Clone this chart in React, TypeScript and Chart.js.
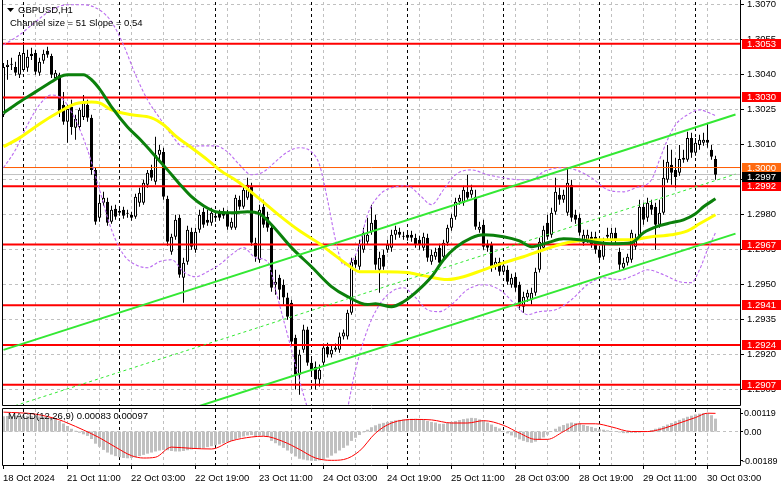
import { useEffect, useRef } from "react";
import { Chart, registerables } from "chart.js";

Chart.register(...registerables);

const FONT = '9.5px "Liberation Sans", Arial, sans-serif';
const SMALL_FONT = '9px "Liberation Sans", Arial, sans-serif';

const symbolTitle = "GBPUSD,H1";
const channelTitle = "Channel size = 51 Slope = 0.54";
const macdTitle = "MACD(12,26,9) 0.00083 0.00097";

const timeLabelBars = [0, 16, 32, 48, 64, 80, 96, 112, 128, 144, 160, 176];
const timeLabels = [
  "18 Oct 2024", "21 Oct 11:00", "22 Oct 03:00", "22 Oct 19:00", "23 Oct 11:00", "24 Oct 03:00",
  "24 Oct 19:00", "25 Oct 11:00", "28 Oct 03:00", "28 Oct 19:00", "29 Oct 11:00", "30 Oct 03:00",
];
const daySeparatorBars = [5, 29, 53, 77, 101, 125, 149, 173];
const gridBars = [8, 16, 24, 32, 40, 48, 56, 64, 72, 80, 88, 96, 104, 112, 120, 128, 136, 144, 152, 160, 168, 176];
const priceTicks = [1.307, 1.3055, 1.304, 1.3025, 1.301, 1.2995, 1.298, 1.2965, 1.295, 1.2935, 1.292, 1.2905];
const levelPrices = [1.3053, 1.303, 1.2992, 1.2967, 1.2941, 1.2924, 1.2907];
const roundLevel = 1.3;
const bidPrice = 1.2997;
const macdTicks = [0.00119, 0, -0.00189];
const macdTickLabels = ["0.00119", "0.00", "-0.00189"];

const BAR_MIN = -0.125;
const BAR_MAX = 184.125;
const PRICE_MIN = 1.28983;
const PRICE_MAX = 1.30709;
const MACD_MIN = -0.00215;
const MACD_MAX = 0.00145;

const openP = [
  1.30226, 1.30431, 1.30440, 1.30431, 1.30397, 1.30418, 1.30427, 1.30487, 1.30491, 1.30406,
  1.30457, 1.30500, 1.30478, 1.30384, 1.30397, 1.30269, 1.30196, 1.30260, 1.30170, 1.30174,
  1.30217, 1.30269, 1.30213, 1.29990, 1.29785, 1.29849, 1.29853, 1.29768, 1.29823, 1.29806,
  1.29819, 1.29802, 1.29798, 1.29789, 1.29849, 1.29849, 1.29926, 1.29990, 1.29939, 1.30055,
  1.30067, 1.29866, 1.29639, 1.29704, 1.29785, 1.29528, 1.29597, 1.29725, 1.29648, 1.29734,
  1.29811, 1.29776, 1.29764, 1.29785, 1.29806, 1.29811, 1.29806, 1.29742, 1.29742, 1.29862,
  1.29832, 1.29871, 1.29918, 1.29678, 1.29605, 1.29832, 1.29789, 1.29742, 1.29498, 1.29528,
  1.29498, 1.29443, 1.29421, 1.29271, 1.29113, 1.29220, 1.29306, 1.29164, 1.29147, 1.29092,
  1.29164, 1.29233, 1.29199, 1.29220, 1.29220, 1.29276, 1.29276, 1.29378, 1.29605, 1.29575,
  1.29648, 1.29682, 1.29725, 1.29776, 1.29562, 1.29627, 1.29648, 1.29657, 1.29712, 1.29725,
  1.29704, 1.29712, 1.29712, 1.29699, 1.29691, 1.29657, 1.29699, 1.29597, 1.29618, 1.29657,
  1.29618, 1.29678, 1.29742, 1.29789, 1.29853, 1.29849, 1.29896, 1.29883, 1.29875, 1.29734,
  1.29755, 1.29674, 1.29669, 1.29575, 1.29597, 1.29554, 1.29562, 1.29498, 1.29532, 1.29498,
  1.29404, 1.29443, 1.29434, 1.29464, 1.29562, 1.29657, 1.29764, 1.29712, 1.29811, 1.29883,
  1.29862, 1.29806, 1.29926, 1.29798, 1.29785, 1.29678, 1.29691, 1.29704, 1.29704, 1.29648,
  1.29618, 1.29712, 1.29691, 1.29721, 1.29639, 1.29571, 1.29592, 1.29605, 1.29661, 1.29704,
  1.29832, 1.29785, 1.29841, 1.29832, 1.29755, 1.29806, 1.29948, 1.30012, 1.29990, 1.29978,
  1.30033, 1.30033, 1.30127, 1.30063, 1.30097, 1.30106, 1.30119, 1.30076, 1.30037,
];
const highP = [
  1.30448, 1.30461, 1.30470, 1.30453, 1.30495, 1.30538, 1.30504, 1.30513, 1.30504, 1.30470,
  1.30504, 1.30517, 1.30487, 1.30418, 1.30406, 1.30324, 1.30269, 1.30290, 1.30226, 1.30256,
  1.30311, 1.30290, 1.30226, 1.29999, 1.29883, 1.29896, 1.29871, 1.29836, 1.29841, 1.29828,
  1.29832, 1.29819, 1.29811, 1.29888, 1.29913, 1.29948, 1.29990, 1.30012, 1.30132, 1.30097,
  1.30085, 1.29879, 1.29716, 1.29798, 1.29798, 1.29614, 1.29751, 1.29742, 1.29742, 1.29819,
  1.29828, 1.29819, 1.29828, 1.29811, 1.29819, 1.29828, 1.29819, 1.29785, 1.29883, 1.29879,
  1.29922, 1.29956, 1.29935, 1.29699, 1.29841, 1.29862, 1.29811, 1.29755, 1.29562, 1.29541,
  1.29520, 1.29464, 1.29434, 1.29284, 1.29220, 1.29327, 1.29318, 1.29186, 1.29169, 1.29156,
  1.29246, 1.29250, 1.29241, 1.29246, 1.29293, 1.29306, 1.29391, 1.29614, 1.29627, 1.29691,
  1.29742, 1.29785, 1.29841, 1.29798, 1.29639, 1.29648, 1.29691, 1.29734, 1.29751, 1.29742,
  1.29725, 1.29725, 1.29729, 1.29716, 1.29708, 1.29721, 1.29716, 1.29648, 1.29657, 1.29674,
  1.29691, 1.29755, 1.29802, 1.29871, 1.29883, 1.29922, 1.29969, 1.29926, 1.29905, 1.29768,
  1.29776, 1.29691, 1.29682, 1.29614, 1.29614, 1.29597, 1.29580, 1.29545, 1.29550, 1.29511,
  1.29468, 1.29477, 1.29485, 1.29571, 1.29699, 1.29751, 1.29798, 1.29828, 1.29956, 1.29913,
  1.29905, 1.29999, 1.29948, 1.29819, 1.29802, 1.29734, 1.29734, 1.29725, 1.29725, 1.29665,
  1.29699, 1.29742, 1.29742, 1.29742, 1.29657, 1.29614, 1.29631, 1.29734, 1.29716, 1.29862,
  1.29849, 1.29871, 1.29862, 1.29849, 1.29862, 1.30033, 1.30097, 1.30076, 1.30042, 1.30097,
  1.30076, 1.30153, 1.30149, 1.30127, 1.30140, 1.30149, 1.30187, 1.30097, 1.30050,
];
const lowP = [
  1.30217, 1.30376, 1.30418, 1.30393, 1.30384, 1.30410, 1.30410, 1.30461, 1.30397, 1.30393,
  1.30444, 1.30470, 1.30384, 1.30376, 1.30217, 1.30183, 1.30106, 1.30140, 1.30119, 1.30162,
  1.30204, 1.30196, 1.29969, 1.29755, 1.29768, 1.29836, 1.29751, 1.29759, 1.29776, 1.29794,
  1.29781, 1.29785, 1.29772, 1.29781, 1.29832, 1.29841, 1.29913, 1.29943, 1.29926, 1.30033,
  1.29862, 1.29665, 1.29627, 1.29691, 1.29528, 1.29421, 1.29584, 1.29648, 1.29635, 1.29721,
  1.29742, 1.29751, 1.29751, 1.29768, 1.29772, 1.29781, 1.29734, 1.29734, 1.29734, 1.29819,
  1.29823, 1.29862, 1.29665, 1.29597, 1.29592, 1.29742, 1.29725, 1.29468, 1.29455, 1.29434,
  1.29413, 1.29348, 1.29237, 1.29049, 1.29027, 1.29207, 1.29151, 1.29113, 1.29049, 1.29062,
  1.29151, 1.29186, 1.29186, 1.29211, 1.29207, 1.29263, 1.29263, 1.29370, 1.29571, 1.29562,
  1.29635, 1.29669, 1.29712, 1.29562, 1.29464, 1.29562, 1.29635, 1.29639, 1.29691, 1.29699,
  1.29691, 1.29686, 1.29682, 1.29657, 1.29648, 1.29644, 1.29597, 1.29584, 1.29605, 1.29580,
  1.29605, 1.29665, 1.29729, 1.29776, 1.29841, 1.29836, 1.29862, 1.29871, 1.29734, 1.29721,
  1.29648, 1.29639, 1.29554, 1.29562, 1.29537, 1.29541, 1.29498, 1.29485, 1.29468, 1.29391,
  1.29378, 1.29425, 1.29413, 1.29451, 1.29550, 1.29648, 1.29691, 1.29699, 1.29798, 1.29841,
  1.29849, 1.29794, 1.29768, 1.29759, 1.29708, 1.29665, 1.29678, 1.29657, 1.29631, 1.29597,
  1.29605, 1.29691, 1.29678, 1.29674, 1.29562, 1.29562, 1.29580, 1.29592, 1.29648, 1.29691,
  1.29755, 1.29768, 1.29798, 1.29648, 1.29742, 1.29798, 1.29935, 1.29926, 1.29913, 1.29965,
  1.30020, 1.30025, 1.30042, 1.30050, 1.30076, 1.30093, 1.30085, 1.30033, 1.29948,
];
const closeP = [
  1.30431, 1.30440, 1.30444, 1.30406, 1.30483, 1.30491, 1.30474, 1.30478, 1.30410, 1.30453,
  1.30487, 1.30483, 1.30397, 1.30406, 1.30239, 1.30196, 1.30251, 1.30174, 1.30209, 1.30247,
  1.30277, 1.30213, 1.29990, 1.29768, 1.29849, 1.29871, 1.29764, 1.29819, 1.29789, 1.29815,
  1.29794, 1.29806, 1.29785, 1.29875, 1.29892, 1.29935, 1.29978, 1.29956, 1.30055, 1.30076,
  1.29875, 1.29682, 1.29704, 1.29776, 1.29541, 1.29592, 1.29734, 1.29661, 1.29725, 1.29798,
  1.29755, 1.29764, 1.29806, 1.29794, 1.29785, 1.29794, 1.29746, 1.29768, 1.29871, 1.29832,
  1.29905, 1.29926, 1.29678, 1.29618, 1.29819, 1.29755, 1.29742, 1.29485, 1.29511, 1.29477,
  1.29443, 1.29361, 1.29254, 1.29113, 1.29199, 1.29306, 1.29164, 1.29134, 1.29092, 1.29134,
  1.29229, 1.29199, 1.29220, 1.29229, 1.29276, 1.29293, 1.29378, 1.29597, 1.29584, 1.29669,
  1.29721, 1.29712, 1.29764, 1.29584, 1.29614, 1.29575, 1.29669, 1.29712, 1.29734, 1.29712,
  1.29706, 1.29699, 1.29699, 1.29669, 1.29669, 1.29704, 1.29614, 1.29627, 1.29639, 1.29592,
  1.29678, 1.29742, 1.29785, 1.29853, 1.29871, 1.29905, 1.29871, 1.29905, 1.29746, 1.29746,
  1.29661, 1.29657, 1.29571, 1.29597, 1.29554, 1.29580, 1.29511, 1.29528, 1.29485, 1.29413,
  1.29447, 1.29464, 1.29464, 1.29554, 1.29682, 1.29734, 1.29704, 1.29806, 1.29896, 1.29862,
  1.29883, 1.29935, 1.29785, 1.29776, 1.29721, 1.29712, 1.29712, 1.29669, 1.29648, 1.29614,
  1.29682, 1.29704, 1.29721, 1.29686, 1.29584, 1.29592, 1.29618, 1.29721, 1.29699, 1.29832,
  1.29776, 1.29849, 1.29819, 1.29755, 1.29806, 1.29956, 1.30025, 1.29978, 1.29960, 1.30037,
  1.30042, 1.30127, 1.30063, 1.30106, 1.30119, 1.30119, 1.30106, 1.30046, 1.29969,
];

const greenMaBars = [
  0, 4, 8, 12, 14, 16, 20, 22, 24, 27, 31, 34, 37, 41, 44, 47, 50, 53, 57, 61,
  64, 67, 72, 77, 82, 86, 91, 93, 97, 100, 103, 107, 110, 113, 117, 120, 125, 129, 132, 136,
  140, 144, 149, 152, 157, 160, 164, 167, 170, 173, 175, 178,
];
const greenMaValues = [
  1.30234, 1.30281, 1.30324, 1.30367, 1.30388, 1.30397, 1.30397, 1.30376, 1.30337, 1.30260,
  1.30174, 1.30123, 1.30067, 1.29990, 1.29930, 1.29875, 1.29836, 1.29811, 1.29806, 1.29811,
  1.29802, 1.29755, 1.29657, 1.29575, 1.29490, 1.29447, 1.29413, 1.29417, 1.29404, 1.29425,
  1.29464, 1.29532, 1.29605, 1.29657, 1.29699, 1.29712, 1.29704, 1.29686, 1.29661, 1.29678,
  1.29695, 1.29691, 1.29678, 1.29674, 1.29678, 1.29721, 1.29751, 1.29764, 1.29776, 1.29802,
  1.29832, 1.29866,
];
const yellowMaBars = [
  0, 4, 9, 14, 18, 22, 24, 27, 32, 37, 40, 43, 47, 51, 54, 59, 64, 69, 74, 79,
  82, 86, 89, 95, 101, 105, 111, 115, 120, 125, 130, 135, 142, 149, 157, 162, 167, 171, 174, 178,
];
const yellowMaValues = [
  1.30089, 1.30127, 1.30187, 1.30239, 1.30273, 1.30281, 1.30277, 1.30247, 1.30226, 1.30213,
  1.30183, 1.30136, 1.30085, 1.30033, 1.29990, 1.29935, 1.29866, 1.29794, 1.29729, 1.29674,
  1.29635, 1.29584, 1.29554, 1.29554, 1.29550, 1.29537, 1.29520, 1.29532, 1.29562, 1.29592,
  1.29618, 1.29648, 1.29682, 1.29691, 1.29691, 1.29704, 1.29712, 1.29729, 1.29759, 1.29798,
];

const bandUpperBars = [
  0, 4, 8, 12, 16, 20, 24, 27, 30, 33, 36, 39, 42, 45, 49, 53, 56, 59, 62, 65,
  68, 71, 74, 77, 79, 81, 83, 85, 87, 89, 91, 94, 97, 101, 104, 107, 110, 113, 117, 121,
  125, 129, 132, 135, 139, 143, 147, 151, 155, 158, 162, 164, 166, 168, 171, 174, 177, 178,
];
const bandUpperValues = [
  1.30525, 1.30568, 1.30624, 1.30675, 1.30697, 1.30697, 1.30675, 1.30624, 1.30525, 1.30397,
  1.30290, 1.30213, 1.30140, 1.30089, 1.30093, 1.30093, 1.30067, 1.30012, 1.29969, 1.29982,
  1.30025, 1.30067, 1.30085, 1.30067, 1.30012, 1.29862, 1.29691, 1.29584, 1.29597, 1.29669,
  1.29798, 1.29883, 1.29913, 1.29922, 1.29883, 1.29841, 1.29905, 1.29969, 1.29990, 1.29969,
  1.29956, 1.29948, 1.29948, 1.29982, 1.29999, 1.29990, 1.29956, 1.29905, 1.29896, 1.29913,
  1.29948, 1.30033, 1.30119, 1.30183, 1.30226, 1.30247, 1.30230, 1.30222,
];
const bandLowerBars = [
  0, 3, 6, 9, 12, 15, 18, 21, 24, 27, 30, 33, 36, 39, 42, 45, 48, 51, 54, 57,
  60, 63, 66, 68, 70, 72, 75, 78, 82, 85, 88, 91, 94, 97, 100, 103, 106, 109, 112, 116,
  120, 124, 128, 131, 134, 138, 142, 146, 150, 154, 158, 161, 165, 169, 172, 174, 176, 178,
];
const bandLowerValues = [
  1.29999, 1.30076, 1.30183, 1.30269, 1.30311, 1.30290, 1.30204, 1.30076, 1.29905, 1.29734,
  1.29627, 1.29584, 1.29571, 1.29597, 1.29605, 1.29554, 1.29532, 1.29554, 1.29584, 1.29627,
  1.29657, 1.29614, 1.29597, 1.29477, 1.29348, 1.29220, 1.29027, 1.28878, 1.28835, 1.28899,
  1.29134, 1.29306, 1.29413, 1.29468, 1.29485, 1.29443, 1.29391, 1.29383, 1.29413, 1.29477,
  1.29498, 1.29477, 1.29413, 1.29370, 1.29383, 1.29391, 1.29434, 1.29498, 1.29528, 1.29520,
  1.29541, 1.29562, 1.29541, 1.29511, 1.29507, 1.29562, 1.29648, 1.29721,
];

const channelBars = [0, 183];
const channelUpper = [1.29219, 1.30227];
const channelMiddle = [1.28964, 1.29972];
const channelLower = [1.28709, 1.29717];

const macdHist = [
  0.00098, 0.00100, 0.00101, 0.00102, 0.00102, 0.00103, 0.00102, 0.00101, 0.00099, 0.00097,
  0.00094, 0.00091, 0.00088, 0.00082,
  0.00068, 0.00052, 0.00036, 0.00018, 0.00005, -0.00008, -0.00018, -0.00028, -0.00048,
  -0.00078, -0.00098, -0.00118, -0.00135, -0.00148, -0.00158, -0.00165, -0.00170, -0.00172, -0.00170,
  -0.00165, -0.00158, -0.00150, -0.00142, -0.00135, -0.00128, -0.00122, -0.00118, -0.00120, -0.00125, -0.00128,
  -0.00128, -0.00125, -0.00120, -0.00115, -0.00112, -0.00110, -0.00105,
  -0.00100, -0.00094, -0.00088, -0.00082, -0.00076, -0.00068, -0.00060, -0.00050, -0.00040, -0.00032,
  -0.00025, -0.00022, -0.00030, -0.00025, -0.00028, -0.00035,
  -0.00060, -0.00075, -0.00090, -0.00105, -0.00122, -0.00140, -0.00160, -0.00175, -0.00180, -0.00185, -0.00188, -0.00189,
  -0.00185, -0.00178, -0.00168, -0.00155, -0.00140, -0.00122, -0.00105, -0.00090, -0.00060, -0.00040, -0.00022, -0.00005,
  0.00012, 0.00028, 0.00040, 0.00050, 0.00056, 0.00062, 0.00068, 0.00072, 0.00075,
  0.00078, 0.00080, 0.00082, 0.00082, 0.00080, 0.00078, 0.00068,
  0.00062, 0.00058, 0.00050, 0.00050, 0.00055, 0.00062,
  0.00068, 0.00074, 0.00080, 0.00084, 0.00088, 0.00086, 0.00078, 0.00070, 0.00058,
  0.00045, 0.00030, 0.00020, 0.00005,
  -0.00012, -0.00025, -0.00038, -0.00050, -0.00060, -0.00068, -0.00072, -0.00065, -0.00052, -0.00038, -0.00020, -0.00002,
  0.00018, 0.00032, 0.00042, 0.00052, 0.00058, 0.00055, 0.00050,
  0.00042, 0.00036, 0.00030, 0.00022, 0.00015, 0.00012, 0.00008, 0.00004,
  -0.00003, -0.00006, -0.00010, -0.00010, -0.00008, -0.00008, -0.00006, -0.00004, 0.00002,
  0.00010, 0.00018, 0.00025, 0.00035, 0.00045, 0.00055, 0.00065, 0.00075, 0.00085, 0.00095, 0.00102,
  0.00110, 0.00115, 0.00119, 0.00117, 0.00105, 0.00083,
];
const signalBars = [
  0, 8, 14, 16, 20, 24, 28, 32, 35, 38, 42, 47, 52, 57, 62, 65, 70, 74, 78, 82,
  85, 89, 93, 97, 103, 107, 112, 116, 120, 125, 129, 133, 136, 140, 144, 148, 152, 157, 161, 165,
  169, 173, 176, 178,
];
const signalValues = [
  0.00125, 0.00112, 0.00075, 0.00055, 0.00010, -0.00040, -0.00100, -0.00155, -0.00170, -0.00165,
  -0.00100, -0.00108, -0.00112, -0.00060, -0.00035, -0.00030, -0.00065, -0.00115, -0.00170, -0.00185,
  -0.00180, -0.00125, -0.00010, 0.00055, 0.00078, 0.00075, 0.00055, 0.00055, 0.00070, 0.00040,
  -0.00010, -0.00050, -0.00050, 0.00000, 0.00050, 0.00050, 0.00030, 0.00000, 0.00000, 0.00020,
  0.00055, 0.00090, 0.00118, 0.00117,
];

function seg(ctx: CanvasRenderingContext2D, x1: number, y1: number, x2: number, y2: number) {
  ctx.beginPath();
  ctx.moveTo(x1, y1);
  ctx.lineTo(x2, y2);
  ctx.stroke();
}
const half = (v: number) => Math.round(v - 0.5) + 0.5;

function drawVerticalGrid(chart: any) {
  const { ctx, chartArea: a, scales } = chart;
  const x = scales.x;
  ctx.save();
  ctx.lineWidth = 1;
  ctx.setLineDash([3, 3]);
  ctx.strokeStyle = "#c0c0c0";
  gridBars.forEach((b) => {
    const px = half(x.getPixelForValue(b));
    seg(ctx, px, a.top, px, a.bottom);
  });
  ctx.strokeStyle = "#000000";
  daySeparatorBars.forEach((b) => {
    const px = half(x.getPixelForValue(b));
    seg(ctx, px, a.top, px, a.bottom);
  });
  ctx.restore();
}

function drawFrame(ctx: CanvasRenderingContext2D, a: any, withTop: boolean) {
  ctx.save();
  ctx.setLineDash([]);
  ctx.strokeStyle = "#000";
  ctx.lineWidth = 1;
  const l = a.left - 0.5;
  const r = a.right + 0.5;
  const t = a.top - 0.5;
  const b = a.bottom + 0.5;
  seg(ctx, l, withTop ? t : 0, l, b);
  seg(ctx, r, withTop ? t : 0, r, b);
  seg(ctx, l, b, r, b);
  if (withTop) seg(ctx, l, t, r, t);
  ctx.restore();
}

const mainDecor = {
  id: "mainDecor",
  beforeDatasetsDraw(chart: any) {
    const { ctx, chartArea: a, scales } = chart;
    const y = scales.y;
    ctx.save();
    ctx.lineWidth = 1;
    ctx.setLineDash([3, 3]);
    ctx.strokeStyle = "#c0c0c0";
    priceTicks.forEach((t) => {
      const py = half(y.getPixelForValue(t));
      seg(ctx, a.left, py, a.right, py);
    });
    ctx.restore();
    drawVerticalGrid(chart);
  },
  afterDraw(chart: any) {
    const { ctx, chartArea: a, scales } = chart;
    const y = scales.y;
    drawFrame(ctx, a, false);
    ctx.save();
    ctx.font = FONT;
    ctx.textBaseline = "middle";
    ctx.textAlign = "left";
    ctx.fillStyle = "#000";
    ctx.strokeStyle = "#000";
    ctx.lineWidth = 1;
    priceTicks.forEach((t) => {
      const py = y.getPixelForValue(t);
      seg(ctx, a.right + 1, half(py), a.right + 4, half(py));
      ctx.fillText(t.toFixed(4), a.right + 7, Math.round(py) + 0.5);
    });
    const box = (v: number, bg: string, shift: number) => {
      const py = y.getPixelForValue(v);
      const top = Math.round(py - 5 + shift);
      ctx.fillStyle = bg;
      ctx.fillRect(a.right + 2, top, chart.width - a.right - 2, 10);
      ctx.fillStyle = "#ffffff";
      ctx.fillText(v.toFixed(4), a.right + 7, top + 5.5);
    };
    levelPrices.forEach((v) => box(v, "#ff0000", 0));
    box(roundLevel, "#ff6a10", 0);
    box(bidPrice, "#000000", 2);
    ctx.fillStyle = "#000";
    ctx.beginPath();
    ctx.moveTo(7, 8);
    ctx.lineTo(14, 8);
    ctx.lineTo(10.5, 12);
    ctx.closePath();
    ctx.fill();
    ctx.fillText(symbolTitle, 18, 10.5);
    ctx.fillText(channelTitle, 10, 23.5);
    ctx.restore();
  },
};

const macdDecor = {
  id: "macdDecor",
  beforeDatasetsDraw(chart: any) {
    const { ctx, chartArea: a, scales } = chart;
    drawVerticalGrid(chart);
    ctx.save();
    ctx.lineWidth = 1;
    ctx.setLineDash([3, 3]);
    ctx.strokeStyle = "#c0c0c0";
    const zy = half(scales.y.getPixelForValue(0));
    seg(ctx, a.left, zy, a.right, zy);
    ctx.restore();
  },
  afterDraw(chart: any) {
    const { ctx, chartArea: a, scales } = chart;
    const x = scales.x;
    const y = scales.y;
    drawFrame(ctx, a, true);
    ctx.save();
    ctx.textBaseline = "middle";
    ctx.textAlign = "left";
    ctx.fillStyle = "#000";
    ctx.strokeStyle = "#000";
    ctx.lineWidth = 1;
    ctx.font = SMALL_FONT;
    macdTicks.forEach((t, k) => {
      const py = y.getPixelForValue(t);
      seg(ctx, a.right + 1, half(py), a.right + 3, half(py));
      ctx.fillText(macdTickLabels[k], t < 0 ? a.right + 2 : a.right + 4, Math.round(py) + 0.5);
    });
    ctx.font = FONT;
    timeLabelBars.forEach((b, k) => {
      const px = half(x.getPixelForValue(b));
      seg(ctx, px, a.bottom + 1, px, a.bottom + 4);
      ctx.fillText(timeLabels[k], px - 0.5, a.bottom + 13.5);
    });
    ctx.fillText(macdTitle, 8, a.top + 7.5);
    ctx.restore();
  },
};

function hLine(value: number, color: string, width: number, order: number) {
  return {
    type: "line" as const,
    data: [{ x: BAR_MIN, y: value }, { x: BAR_MAX, y: value }],
    borderColor: color,
    borderWidth: width,
    pointRadius: 0,
    order,
  };
}

function seriesLine(bars: number[], values: number[], color: string, width: number, order: number, dash?: number[]) {
  return {
    type: "line" as const,
    data: bars.map((b, i) => ({ x: b, y: values[i] })),
    borderColor: color,
    borderWidth: width,
    borderDash: dash || [],
    pointRadius: 0,
    cubicInterpolationMode: "monotone" as const,
    order,
  };
}

export default function App() {
  const mainRef = useRef<HTMLCanvasElement>(null);
  const macdRef = useRef<HTMLCanvasElement>(null);

  useEffect(() => {
    const bodyColors = openP.map((o, i) => (closeP[i] >= o ? "#ffffff" : "#000000"));
    const mainChart = new Chart(mainRef.current as HTMLCanvasElement, {
      type: "bar",
      data: {
        datasets: [
          hLine(bidPrice, "#c0c0c0", 1, 30),
          {
            type: "bar",
            data: highP.map((h, i) => ({ x: i, y: [lowP[i], h] })),
            backgroundColor: "#000000",
            borderWidth: 0,
            barThickness: 1,
            grouped: false,
            inflateAmount: 0,
            order: 21,
          } as any,
          {
            type: "bar",
            data: openP.map((o, i) => ({ x: i, y: [o, closeP[i]] })),
            backgroundColor: bodyColors,
            borderColor: "#000000",
            borderWidth: 1,
            borderSkipped: false,
            barThickness: 3,
            grouped: false,
            inflateAmount: 0,
            minBarLength: 1,
            order: 20,
          } as any,
          ...levelPrices.map((v) => hLine(v, "#ff0000", 2, 6)),
          hLine(roundLevel, "#ff5a00", 1, 6),
          seriesLine(bandUpperBars, bandUpperValues, "#bb6cf0", 1.1, 5, [3, 2]),
          seriesLine(bandLowerBars, bandLowerValues, "#bb6cf0", 1.1, 5, [3, 2]),
          seriesLine(yellowMaBars, yellowMaValues, "#ffff00", 3, 4),
          seriesLine(greenMaBars, greenMaValues, "#0b800b", 3, 3),
          seriesLine(channelBars, channelUpper, "#33e833", 2, 2),
          seriesLine(channelBars, channelLower, "#33e833", 2, 2),
          seriesLine(channelBars, channelMiddle, "#33e833", 1, 2, [3, 3]),
        ] as any,
      },
      options: {
        animation: false,
        responsive: false,
        devicePixelRatio: 1,
        events: [],
        layout: { padding: { left: 3, right: 41, top: 2, bottom: 2 } },
        scales: {
          x: { type: "linear", min: BAR_MIN, max: BAR_MAX, display: false, offset: false },
          y: { type: "linear", min: PRICE_MIN, max: PRICE_MAX, display: false },
        },
        plugins: { legend: { display: false }, tooltip: { enabled: false } },
      },
      plugins: [mainDecor],
    });

    const macdChart = new Chart(macdRef.current as HTMLCanvasElement, {
      type: "bar",
      data: {
        datasets: [
          {
            type: "bar",
            data: macdHist.map((v, i) => ({ x: i, y: v })),
            backgroundColor: "#c0c0c0",
            borderWidth: 0,
            barThickness: 3,
            inflateAmount: 0,
            order: 5,
          } as any,
          seriesLine(signalBars, signalValues, "#ff0000", 1, 1),
        ] as any,
      },
      options: {
        animation: false,
        responsive: false,
        devicePixelRatio: 1,
        events: [],
        layout: { padding: { left: 3, right: 41, top: 2, bottom: 24 } },
        scales: {
          x: { type: "linear", min: BAR_MIN, max: BAR_MAX, display: false, offset: false },
          y: { type: "linear", min: MACD_MIN, max: MACD_MAX, display: false },
        },
        plugins: { legend: { display: false }, tooltip: { enabled: false } },
      },
      plugins: [macdDecor],
    });

    return () => {
      mainChart.destroy();
      macdChart.destroy();
    };
  }, []);

  return (
    <div style={{ position: "absolute", left: 0, top: 0, width: 781, height: 489, background: "#ffffff", overflow: "hidden" }}>
      <canvas ref={mainRef} width={781} height={407} style={{ position: "absolute", left: 0, top: 0, width: 781, height: 407 }} />
      <canvas ref={macdRef} width={781} height={82} style={{ position: "absolute", left: 0, top: 407, width: 781, height: 82 }} />
    </div>
  );
}
